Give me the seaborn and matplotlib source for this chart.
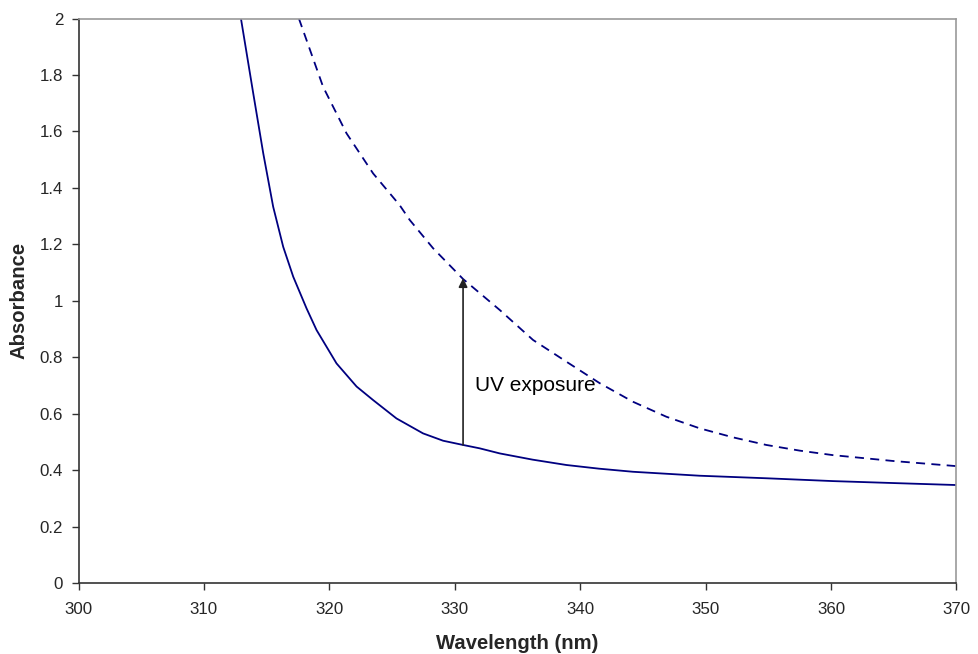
import matplotlib
matplotlib.use("Agg")
import matplotlib.pyplot as plt
import seaborn as sns
import pandas as pd
from matplotlib.ticker import FuncFormatter

# Before UV exposure (solid)
wl_before = [312.95, 313.93, 314.73, 315.52, 316.32, 317.12, 318.18, 318.98, 320.57,
             322.17, 323.49, 325.35, 327.47, 329.07, 330.66, 331.99, 333.59, 336.2,
             338.9, 341.5, 344.21, 349.52, 354.84, 360.14, 365.0, 370.0]
abs_before = [2.0, 1.735, 1.522, 1.333, 1.191, 1.085, 0.973, 0.896, 0.778,
              0.696, 0.648, 0.583, 0.530, 0.504, 0.489, 0.477, 0.459, 0.437,
              0.418, 0.405, 0.394, 0.380, 0.371, 0.361, 0.354, 0.347]

# After UV exposure (dashed)
wl_after = [317.57, 319.5, 321.37, 323.49, 325.6, 326.41, 328.27, 330.66, 333.59,
            336.24, 338.9, 341.55, 344.21, 346.87, 349.52, 352.18, 354.84, 357.49,
            360.14, 365.0, 370.0]
abs_after = [2.0, 1.758, 1.593, 1.451, 1.339, 1.286, 1.186, 1.077, 0.967,
             0.861, 0.784, 0.708, 0.642, 0.589, 0.548, 0.516, 0.489, 0.469,
             0.453, 0.432, 0.414]

x_ticks = [300, 310, 320, 330, 340, 350, 360, 370]
y_ticks = [0, 0.2, 0.4, 0.6, 0.8, 1.0, 1.2, 1.4, 1.6, 1.8, 2.0]

arrow_wl = 330.66
arrow_from = 0.489
arrow_to = 1.08
annot_text = "UV exposure"

sns.set_style("white")
plt.rcParams['font.family'] = ['Liberation Sans', 'DejaVu Sans']

fig = plt.figure(figsize=(9.79, 6.54), dpi=100)
ax = fig.add_axes([0.0802, 0.1086, 0.977 - 0.0802, 0.9717 - 0.1086])

df_b = pd.DataFrame({"Wavelength": wl_before, "Absorbance": abs_before})
df_a = pd.DataFrame({"Wavelength": wl_after, "Absorbance": abs_after})

sns.lineplot(data=df_b, x="Wavelength", y="Absorbance", ax=ax, color="#000080",
             linewidth=1.3, sort=True)
sns.lineplot(data=df_a, x="Wavelength", y="Absorbance", ax=ax, color="#000080",
             linewidth=1.3, linestyle=(0, (5, 3.5)), sort=True)

ax.annotate("", xy=(arrow_wl, arrow_to), xytext=(arrow_wl, arrow_from),
            arrowprops=dict(arrowstyle="-|>", color="#222222", lw=1.2,
                            mutation_scale=13, shrinkA=0, shrinkB=0))
ax.text(331.65, 0.698, annot_text, fontsize=15, va="center", ha="left", color="black")

ax.set_xlim(300, 370)
ax.set_ylim(0, 2)
ax.set_xticks(x_ticks)
ax.set_yticks(y_ticks)
ax.yaxis.set_major_formatter(FuncFormatter(lambda v, p: f"{v:g}"))
ax.tick_params(axis="both", direction="out", length=5, width=1, color="#333333",
               labelsize=12.2, left=True, bottom=True)
ax.tick_params(axis="x", pad=9)
ax.tick_params(axis="y", pad=6)

ax.set_xlabel("Wavelength (nm)", fontsize=14.6, fontweight="bold", labelpad=12)
ax.set_ylabel("Absorbance", fontsize=14.6, fontweight="bold", labelpad=8)

for s in ["left", "bottom"]:
    ax.spines[s].set_color("#333333")
    ax.spines[s].set_linewidth(1.2)
for s in ["top", "right"]:
    ax.spines[s].set_color("#999999")
    ax.spines[s].set_linewidth(1.2)
ax.grid(False)

fig.savefig("out.png", dpi=100)
